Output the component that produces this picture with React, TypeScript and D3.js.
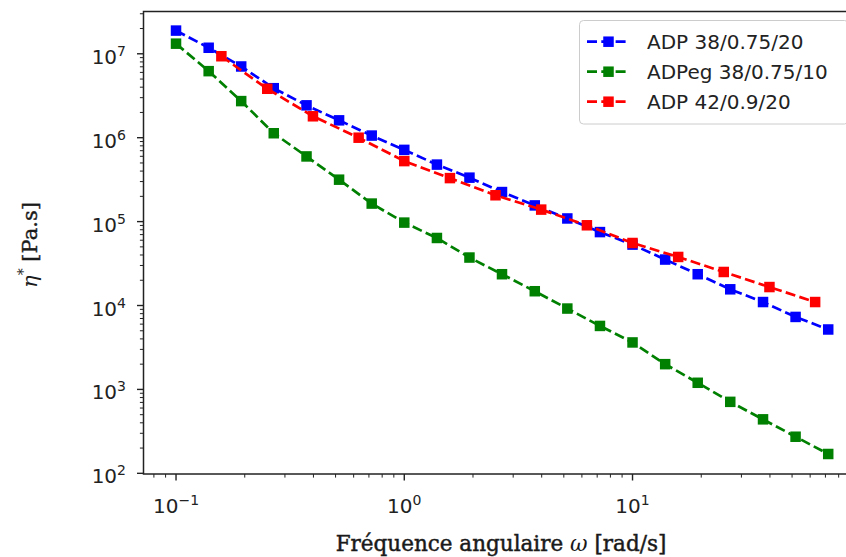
import React from "react";
import * as d3 from "d3";

// angular frequencies (rad/s)
const omega7 = [0.1, 0.139, 0.193, 0.268, 0.373, 0.518, 0.72, 1.0, 1.39, 1.93, 2.68, 3.73, 5.18, 7.2, 10, 13.9, 19.3, 26.8, 37.3, 51.8, 72];
const omega5 = [0.158, 0.251, 0.398, 0.631, 1.0, 1.585, 2.51, 3.98, 6.31, 10, 15.85, 25.1, 39.8, 63.1];

// complex viscosity (Pa.s)
const etaADP38 = [1.89e7, 1.18e7, 7.06e6, 3.89e6, 2.43e6, 1.61e6, 1.06e6, 7.16e5, 4.78e5, 3.34e5, 2.25e5, 1.56e5, 1.09e5, 7.5e4, 5.32e4, 3.53e4, 2.36e4, 1.56e4, 1.1e4, 7.31e3, 5.18e3];
const etaADPeg38 = [1.32e7, 6.21e6, 2.73e6, 1.13e6, 5.98e5, 3.16e5, 1.64e5, 9.73e4, 6.38e4, 3.73e4, 2.36e4, 1.48e4, 9.2e3, 5.71e3, 3.63e3, 2.0e3, 1.2e3, 711, 440, 273, 170];
const etaADP42 = [9.35e6, 3.83e6, 1.8e6, 1.0e6, 5.26e5, 3.3e5, 2.06e5, 1.39e5, 9.04e4, 5.56e4, 3.79e4, 2.51e4, 1.66e4, 1.1e4];

const seriesNames = ["ADP 38/0.75/20", "ADPeg 38/0.75/10", "ADP 42/0.9/20"];
const seriesColors = ["#0000ff", "#008000", "#ff0000"];

const xMajorExps = [-1, 0, 1];
const yMajorExps = [2, 3, 4, 5, 6, 7];

const W = 846, H = 557;
const L = 143.5, R = 858.5, T = 11.5, B = 474;

export default function App() {
  const x = d3.scaleLog().domain([Math.pow(10, -1.1425), Math.pow(10, 1.99)]).range([L, R]);
  const y = d3.scaleLog().domain([Math.pow(10, 1.992), Math.pow(10, 7.504)]).range([B, T]);

  const series = [
    { xs: omega7, ys: etaADP38 },
    { xs: omega7, ys: etaADPeg38 },
    { xs: omega5, ys: etaADP42 },
  ];

  const line = d3.line<[number, number]>().x(d => x(d[0])).y(d => y(d[1]));

  const [x0, x1] = x.domain();
  const [y0, y1] = y.domain();
  const xMinor: number[] = [];
  for (let e = -2; e <= 2; e++) for (let m = 2; m <= 9; m++) {
    const v = m * Math.pow(10, e);
    if (v >= x0 && v <= x1) xMinor.push(v);
  }
  const yMinor: number[] = [];
  for (let e = 1; e <= 7; e++) for (let m = 2; m <= 9; m++) {
    const v = m * Math.pow(10, e);
    if (v >= y0 && v <= y1) yMinor.push(v);
  }

  const tickFont = "DejaVu Sans";
  const tickColor = "#222";
  const ms = 10.5;

  return (
    <svg width={W} height={H} style={{ position: "absolute", left: 0, top: 0, background: "#fff" }}>
      <defs>
        <clipPath id="plotclip">
          <rect x={L} y={T} width={R - L} height={B - T} />
        </clipPath>
      </defs>
      <rect x={0} y={0} width={W} height={H} fill="#fff" />

      {/* series */}
      <g clipPath="url(#plotclip)">
        {series.map((s, i) => {
          const pts = s.xs.map((v, k) => [v, s.ys[k]] as [number, number]);
          return (
            <g key={i}>
              <path d={line(pts) || ""} fill="none" stroke={seriesColors[i]} strokeWidth={2.7} strokeDasharray="10,4.3" />
              {pts.map((p, k) => (
                <rect key={k} x={x(p[0]) - ms / 2} y={y(p[1]) - ms / 2} width={ms} height={ms} fill={seriesColors[i]} />
              ))}
            </g>
          );
        })}
      </g>

      {/* spines */}
      <rect x={L} y={T} width={R - L} height={B - T} fill="none" stroke="#222" strokeWidth={1.5} />

      {/* x ticks */}
      {xMajorExps.map(e => {
        const px = x(Math.pow(10, e));
        return (
          <g key={"xm" + e}>
            <line x1={px} x2={px} y1={B} y2={B + 6.5} stroke="#222" strokeWidth={1.4} />
            <text x={px} y={513} textAnchor="middle" fontFamily={tickFont} fontSize={20} fill={tickColor}>
              <tspan>10</tspan>
              <tspan dy={-8} fontSize={14}>{e < 0 ? "\u2212" + Math.abs(e) : String(e)}</tspan>
            </text>
          </g>
        );
      })}
      {xMinor.map((v, i) => (
        <line key={"xn" + i} x1={x(v)} x2={x(v)} y1={B} y2={B + 3.6} stroke="#222" strokeWidth={1} />
      ))}

      {/* y ticks */}
      {yMajorExps.map(e => {
        const py = y(Math.pow(10, e));
        return (
          <g key={"ym" + e}>
            <line x1={L - 6.5} x2={L} y1={py} y2={py} stroke="#222" strokeWidth={1.4} />
            <text x={126} y={py + 10} textAnchor="end" fontFamily={tickFont} fontSize={20} fill={tickColor}>
              <tspan>10</tspan>
              <tspan dy={-8} fontSize={14}>{String(e)}</tspan>
            </text>
          </g>
        );
      })}
      {yMinor.map((v, i) => (
        <line key={"yn" + i} x1={L - 3.6} x2={L} y1={y(v)} y2={y(v)} stroke="#222" strokeWidth={1} />
      ))}

      {/* axis labels */}
      <text x={(L + R) / 2} y={551} textAnchor="middle" fontFamily="DejaVu Serif" fontSize={21.5} fill="#1a1a1a" stroke="#1a1a1a" strokeWidth={0.45}>
        Fréquence angulaire <tspan fontStyle="italic" stroke="none">ω</tspan> [rad/s]
      </text>
      <text transform={`translate(37,245) rotate(-90)`} textAnchor="middle" fontFamily="DejaVu Serif" fontSize={21} fill="#1a1a1a">
        <tspan fontStyle="italic">η</tspan>
        <tspan dy={-9} fontSize={14}>*</tspan>
        <tspan dy={9} stroke="#1a1a1a" strokeWidth={0.4}> [Pa.s]</tspan>
      </text>

      {/* legend */}
      <rect x={579.5} y={20.5} width={269} height={103.5} rx={4} fill="#fff" fillOpacity={0.8} stroke="#ccc" strokeWidth={1} />
      {seriesNames.map((name, i) => {
        const cy = 41.7 + i * 30;
        return (
          <g key={"lg" + i}>
            <line x1={587} x2={629} y1={cy} y2={cy} stroke={seriesColors[i]} strokeWidth={2.7} strokeDasharray="10,4.3" />
            <rect x={608.5 - ms / 2} y={cy - ms / 2} width={ms} height={ms} fill={seriesColors[i]} />
            <text x={647} y={cy + 7.3} fontFamily={tickFont} fontSize={20} fill={tickColor}>{name}</text>
          </g>
        );
      })}
    </svg>
  );
}
